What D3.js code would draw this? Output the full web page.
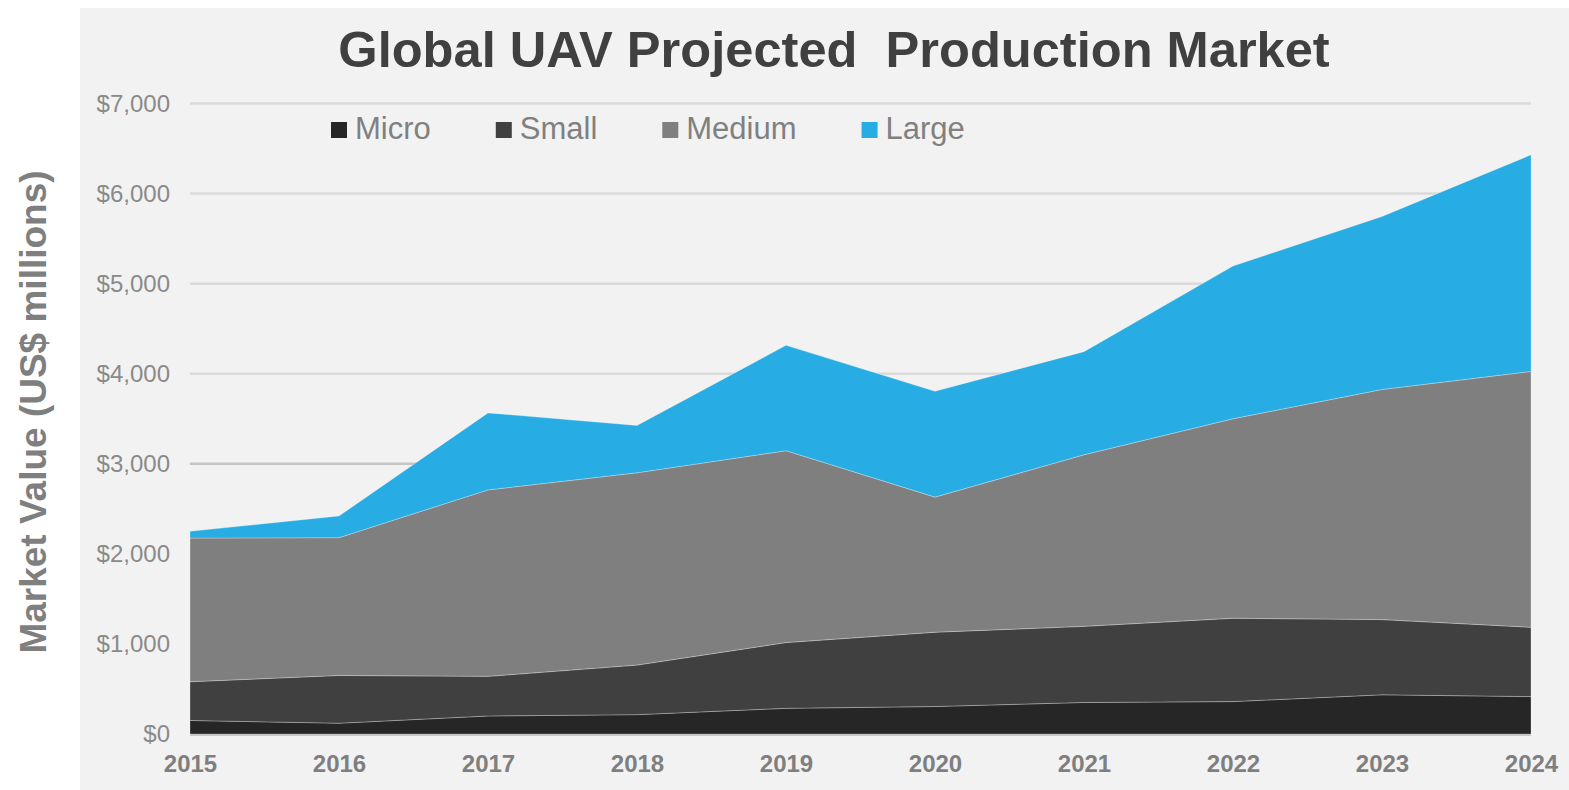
<!DOCTYPE html>
<html>
<head>
<meta charset="utf-8">
<script src="https://cdn.jsdelivr.net/npm/d3@7"></script>
<style>
    body { margin: 0; background: #ffffff; }
    svg { display: block; font-family: "Liberation Sans", Arial, sans-serif; }
</style>
</head>
<body>
<div id="chart"></div>
<script>
// Data (US$ millions)
const years = [2015, 2016, 2017, 2018, 2019, 2020, 2021, 2022, 2023, 2024];
const seriesNames = ["Micro", "Small", "Medium", "Large"];
const micro = [150, 120, 200, 215, 285, 305, 350, 360, 435, 415];
const small = [430, 530, 440, 550, 730, 825, 845, 925, 835, 770];
const medium = [1595, 1530, 2070, 2135, 2130, 1500, 1905, 2215, 2555, 2840];
const large = [75, 240, 855, 525, 1170, 1175, 1145, 1695, 1920, 2405];
const yTicks = [0, 1000, 2000, 3000, 4000, 5000, 6000, 7000];

const colors = {Micro: "#262626", Small: "#404040", Medium: "#7f7f7f", Large: "#27ace3"};

const width = 1569, height = 790;
const margin = {top: 103.5, right: 38, bottom: 56, left: 190};

const svg = d3.select("#chart").append("svg")
    .attr("width", width)
    .attr("height", height);

// chart panel background
svg.append("rect")
    .attr("x", 80).attr("y", 8)
    .attr("width", width - 80).attr("height", height - 8)
    .attr("fill", "#f2f2f2");

// Table for the stack
let table = years.map((y, i) => ({
    year: y, Micro: micro[i], Small: small[i], Medium: medium[i], Large: large[i]
}));

let x = d3.scaleLinear()
    .domain(d3.extent(years))
    .range([margin.left, width - margin.right]);
let y = d3.scaleLinear()
    .domain([0, 7000])
    .range([height - margin.bottom, margin.top]);

// Gridlines
svg.append("g")
    .attr("class", "grid")
    .selectAll("line")
    .data(yTicks.filter(d => d > 0))
    .join("line")
    .attr("x1", x.range()[0]).attr("x2", x.range()[1])
    .attr("y1", d => y(d)).attr("y2", d => y(d))
    .attr("stroke", d => d === 3000 ? "#c4c4c4" : "#dadada")
    .attr("stroke-width", 2.5);

// Stacked areas
let stack = d3.stack().keys(seriesNames);
let layers = stack(table);

let area = d3.area()
    .x(d => x(d.data.year))
    .y0(d => y(d[0]))
    .y1(d => y(d[1]));

svg.append("g")
    .selectAll("path")
    .data(layers)
    .join("path")
    .attr("d", area)
    .attr("fill", d => colors[d.key])
    .attr("stroke", "#ffffff")
    .attr("stroke-opacity", 0.35)
    .attr("stroke-width", 0.8);

// x baseline
svg.append("line")
    .attr("x1", x.range()[0]).attr("x2", x.range()[1])
    .attr("y1", y(0) + 1).attr("y2", y(0) + 1)
    .attr("stroke", "#c8c8c8")
    .attr("stroke-width", 2);

// Axes
let yAxis = d3.axisLeft(y)
    .tickValues(yTicks)
    .tickSize(0)
    .tickPadding(20)
    .tickFormat(d => "$" + d3.format(",")(d));
svg.append("g")
    .attr("transform", `translate(${margin.left},0)`)
    .call(yAxis)
    .call(g => g.select(".domain").remove())
    .selectAll("text")
    .attr("font-size", 24)
    .attr("font-family", "Liberation Sans, Arial, sans-serif")
    .attr("fill", "#8a8a8a");

let xAxis = d3.axisBottom(x)
    .tickValues(years)
    .tickSize(0)
    .tickPadding(21)
    .tickFormat(d3.format("d"));
svg.append("g")
    .attr("transform", `translate(0,${y(0)})`)
    .call(xAxis)
    .call(g => g.select(".domain").remove())
    .selectAll("text")
    .attr("font-size", 24)
    .attr("font-weight", "bold")
    .attr("font-family", "Liberation Sans, Arial, sans-serif")
    .attr("fill", "#7f7f7f");

// Title
svg.append("text")
    .text("Global UAV Projected  Production Market")
    .attr("x", 834)
    .attr("y", 67)
    .attr("text-anchor", "middle")
    .attr("font-size", 50.6)
    .attr("font-weight", "bold")
    .attr("fill", "#404040")
    .style("white-space", "pre");

// Y axis title
svg.append("text")
    .text("Market Value (US$ millions)")
    .attr("transform", "translate(46,412) rotate(-90)")
    .attr("text-anchor", "middle")
    .attr("font-size", 37)
    .attr("font-weight", "bold")
    .attr("fill", "#7f7f7f");

// Legend
let legend = svg.append("g").attr("transform", "translate(331,130)");
let lx = 0;
seriesNames.forEach(name => {
    let item = legend.append("g").attr("transform", `translate(${lx},0)`);
    item.append("rect")
        .attr("x", 0).attr("y", -8)
        .attr("width", 16).attr("height", 16)
        .attr("fill", colors[name]);
    let t = item.append("text")
        .text(name)
        .attr("x", 24)
        .attr("y", 9)
        .attr("font-size", 31)
        .attr("fill", "#808080");
    lx += 24 + t.node().getComputedTextLength() + 65;
});
</script>
</body>
</html>
